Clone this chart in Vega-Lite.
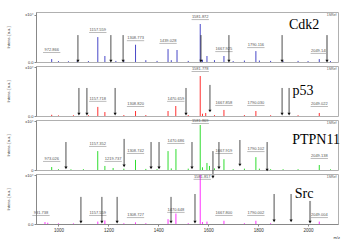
{
"$schema": "https://vega.github.io/schema/vega-lite/v6.json",
"padding": {"left": 6, "top": 11, "right": 5, "bottom": 2},
"background": "white",
"bounds": "flush",
"config": {
  "font": "Liberation Sans",
  "view": {"stroke": "#b0b0b0", "strokeWidth": 1},
  "concat": {"spacing": 4},
  "axis": {"labelFontSize": 4, "titleFontSize": 4, "titleFontWeight": "normal", "tickSize": 2, "labelPadding": 1, "titlePadding": 14, "domainColor": "#888", "tickColor": "#888", "labelColor": "#333", "titleColor": "#333", "grid": false}
},
"datasets": {
  "peaks": [
    {"p":"Cdk2","mz":972.9,"i":0.16},{"p":"Cdk2","mz":1000,"i":0.05},{"p":"Cdk2","mz":1040,"i":0.04},{"p":"Cdk2","mz":1075,"i":0.06},{"p":"Cdk2","mz":1120,"i":0.05},{"p":"Cdk2","mz":1157.6,"i":1.37},{"p":"Cdk2","mz":1186,"i":0.33},{"p":"Cdk2","mz":1230,"i":0.06},{"p":"Cdk2","mz":1262,"i":0.08},{"p":"Cdk2","mz":1308.8,"i":0.95},{"p":"Cdk2","mz":1350,"i":0.1},{"p":"Cdk2","mz":1395,"i":0.06},{"p":"Cdk2","mz":1439,"i":0.71},{"p":"Cdk2","mz":1452,"i":0.1},{"p":"Cdk2","mz":1475,"i":0.66},{"p":"Cdk2","mz":1520,"i":0.06},{"p":"Cdk2","mz":1568,"i":2.09},{"p":"Cdk2","mz":1577,"i":0.12},{"p":"Cdk2","mz":1595,"i":0.33},{"p":"Cdk2","mz":1625,"i":0.1},{"p":"Cdk2","mz":1663,"i":0.33},{"p":"Cdk2","mz":1700,"i":0.05},{"p":"Cdk2","mz":1745,"i":0.08},{"p":"Cdk2","mz":1791,"i":0.6},{"p":"Cdk2","mz":1805,"i":0.08},{"p":"Cdk2","mz":1850,"i":0.06},{"p":"Cdk2","mz":1900,"i":0.05},{"p":"Cdk2","mz":1960,"i":0.06},{"p":"Cdk2","mz":2000,"i":0.05},{"p":"Cdk2","mz":2045,"i":0.16},{"p":"Cdk2","mz":2090,"i":0.05},
    {"p":"p53","mz":972.9,"i":0.08},{"p":"p53","mz":1000,"i":0.04},{"p":"p53","mz":1060,"i":0.05},{"p":"p53","mz":1120,"i":0.05},{"p":"p53","mz":1157.6,"i":0.6},{"p":"p53","mz":1186,"i":0.26},{"p":"p53","mz":1262,"i":0.06},{"p":"p53","mz":1308.8,"i":0.33},{"p":"p53","mz":1350,"i":0.06},{"p":"p53","mz":1439,"i":0.33},{"p":"p53","mz":1470,"i":0.66},{"p":"p53","mz":1520,"i":0.06},{"p":"p53","mz":1568,"i":2.64},{"p":"p53","mz":1577,"i":0.15},{"p":"p53","mz":1590,"i":0.2},{"p":"p53","mz":1625,"i":0.06},{"p":"p53","mz":1663,"i":0.4},{"p":"p53","mz":1745,"i":0.06},{"p":"p53","mz":1791,"i":0.33},{"p":"p53","mz":1850,"i":0.05},{"p":"p53","mz":1960,"i":0.05},{"p":"p53","mz":2045,"i":0.2},
    {"p":"PTPN11","mz":972.9,"i":0.22},{"p":"PTPN11","mz":1000,"i":0.06},{"p":"PTPN11","mz":1050,"i":0.05},{"p":"PTPN11","mz":1100,"i":0.06},{"p":"PTPN11","mz":1157.4,"i":1.4},{"p":"PTPN11","mz":1186,"i":0.3},{"p":"PTPN11","mz":1219,"i":0.15},{"p":"PTPN11","mz":1262,"i":0.1},{"p":"PTPN11","mz":1308.7,"i":0.75},{"p":"PTPN11","mz":1350,"i":0.08},{"p":"PTPN11","mz":1395,"i":0.06},{"p":"PTPN11","mz":1439,"i":1.4},{"p":"PTPN11","mz":1452,"i":0.12},{"p":"PTPN11","mz":1470.7,"i":1.55},{"p":"PTPN11","mz":1520,"i":0.1},{"p":"PTPN11","mz":1568,"i":3.33},{"p":"PTPN11","mz":1577,"i":0.2},{"p":"PTPN11","mz":1595,"i":0.52},{"p":"PTPN11","mz":1605,"i":0.3},{"p":"PTPN11","mz":1625,"i":0.12},{"p":"PTPN11","mz":1663,"i":0.8},{"p":"PTPN11","mz":1700,"i":0.06},{"p":"PTPN11","mz":1745,"i":0.1},{"p":"PTPN11","mz":1791,"i":0.95},{"p":"PTPN11","mz":1805,"i":0.1},{"p":"PTPN11","mz":1850,"i":0.06},{"p":"PTPN11","mz":1900,"i":0.06},{"p":"PTPN11","mz":1960,"i":0.06},{"p":"PTPN11","mz":2045,"i":0.37},{"p":"PTPN11","mz":2090,"i":0.05},
    {"p":"Src","mz":946,"i":0.12},{"p":"Src","mz":957,"i":0.08},{"p":"Src","mz":1000,"i":0.04},{"p":"Src","mz":1060,"i":0.04},{"p":"Src","mz":1157.6,"i":0.15},{"p":"Src","mz":1186,"i":0.22},{"p":"Src","mz":1262,"i":0.05},{"p":"Src","mz":1308.7,"i":0.1},{"p":"Src","mz":1350,"i":0.05},{"p":"Src","mz":1439,"i":0.3},{"p":"Src","mz":1470.6,"i":0.65},{"p":"Src","mz":1520,"i":0.05},{"p":"Src","mz":1568,"i":3.05},{"p":"Src","mz":1577,"i":0.12},{"p":"Src","mz":1595,"i":0.15},{"p":"Src","mz":1663,"i":0.2},{"p":"Src","mz":1745,"i":0.05},{"p":"Src","mz":1791,"i":0.2},{"p":"Src","mz":1850,"i":0.05},{"p":"Src","mz":2045,"i":0.15}
  ],
  "labels": [
    {"p":"Cdk2","mz":972.9,"v":0.55,"t":"972.866"},{"p":"Cdk2","mz":1157.6,"v":1.65,"t":"1157.559"},{"p":"Cdk2","mz":1308.8,"v":1.2,"t":"1308.773"},{"p":"Cdk2","mz":1439,"v":1.05,"t":"1439.028"},{"p":"Cdk2","mz":1568,"v":2.36,"t":"1581.872"},{"p":"Cdk2","mz":1663,"v":0.6,"t":"1667.925"},{"p":"Cdk2","mz":1791,"v":0.82,"t":"1790.116"},{"p":"Cdk2","mz":2045,"v":0.5,"t":"2049.148"},
    {"p":"p53","mz":1157.6,"v":1.0,"t":"1157.718"},{"p":"p53","mz":1308.8,"v":0.66,"t":"1308.820"},{"p":"p53","mz":1470,"v":1.0,"t":"1470.659"},{"p":"p53","mz":1568,"v":2.97,"t":"1581.778"},{"p":"p53","mz":1663,"v":0.73,"t":"1667.858"},{"p":"p53","mz":1791,"v":0.73,"t":"1790.030"},{"p":"p53","mz":2045,"v":0.66,"t":"2049.022"},
    {"p":"PTPN11","mz":972.9,"v":0.67,"t":"973.026"},{"p":"PTPN11","mz":1157.4,"v":1.78,"t":"1157.352"},{"p":"PTPN11","mz":1219,"v":0.67,"t":"1219.737"},{"p":"PTPN11","mz":1308.7,"v":1.26,"t":"1308.742"},{"p":"PTPN11","mz":1470.7,"v":2.0,"t":"1470.686"},{"p":"PTPN11","mz":1568,"v":3.48,"t":"1581.869"},{"p":"PTPN11","mz":1663,"v":1.26,"t":"1667.919"},{"p":"PTPN11","mz":1791,"v":1.4,"t":"1790.102"},{"p":"PTPN11","mz":2045,"v":0.89,"t":"2049.138"},
    {"p":"Src","mz":930,"v":0.56,"t":"931.738"},{"p":"Src","mz":1157.6,"v":0.56,"t":"1157.559"},{"p":"Src","mz":1308.7,"v":0.43,"t":"1308.727"},{"p":"Src","mz":1470.6,"v":0.75,"t":"1470.648"},{"p":"Src","mz":1576,"v":2.8,"t":"1581.817"},{"p":"Src","mz":1663,"v":0.56,"t":"1667.800"},{"p":"Src","mz":1791,"v":0.56,"t":"1790.002"},{"p":"Src","mz":2045,"v":0.43,"t":"2049.004"}
  ],
  "arrows": [
    {"p":"Cdk2","mz":1078,"top":1.48,"bot":0.05,"g":false},{"p":"Cdk2","mz":1210,"top":1.48,"bot":0.05,"g":false},{"p":"Cdk2","mz":1259,"top":1.48,"bot":0.05,"g":false},{"p":"Cdk2","mz":1571,"top":1.48,"bot":0.05,"g":false},{"p":"Cdk2","mz":1683,"top":1.48,"bot":0.05,"g":false},{"p":"Cdk2","mz":1896,"top":1.48,"bot":0.05,"g":false},{"p":"Cdk2","mz":2076,"top":1.48,"bot":0.05,"g":true},
    {"p":"p53","mz":1082,"top":1.85,"bot":0.13,"g":false},{"p":"p53","mz":1114,"top":1.85,"bot":0.13,"g":false},{"p":"p53","mz":1227,"top":1.85,"bot":0.13,"g":false},{"p":"p53","mz":1511,"top":1.85,"bot":0.13,"g":false},{"p":"p53","mz":1607,"top":2.05,"bot":0.33,"g":false},{"p":"p53","mz":1896,"top":1.85,"bot":0.13,"g":false},{"p":"p53","mz":1924,"top":1.85,"bot":0.13,"g":false},
    {"p":"PTPN11","mz":1030,"top":2.07,"bot":0.15,"g":false},{"p":"PTPN11","mz":1263,"top":2.3,"bot":0.3,"g":false},{"p":"PTPN11","mz":1371,"top":2.07,"bot":0.15,"g":false},{"p":"PTPN11","mz":1403,"top":2.07,"bot":0.15,"g":false},{"p":"PTPN11","mz":1535,"top":2.07,"bot":0.15,"g":false},{"p":"PTPN11","mz":1619,"top":1.4,"bot":-0.52,"g":false},{"p":"PTPN11","mz":1643,"top":2.07,"bot":0.15,"g":false},{"p":"PTPN11","mz":1727,"top":2.22,"bot":0.37,"g":false},{"p":"PTPN11","mz":1836,"top":2.07,"bot":0.0,"g":false},
    {"p":"Src","mz":1090,"top":1.68,"bot":0.12,"g":false},{"p":"Src","mz":1174,"top":1.68,"bot":0.12,"g":false},{"p":"Src","mz":1235,"top":1.68,"bot":0.12,"g":false},{"p":"Src","mz":1451,"top":1.68,"bot":0.12,"g":false},{"p":"Src","mz":1547,"top":1.86,"bot":0.12,"g":false},{"p":"Src","mz":1864,"top":1.86,"bot":0.19,"g":false},{"p":"Src","mz":1932,"top":1.86,"bot":0.19,"g":false},{"p":"Src","mz":2008,"top":1.43,"bot":0.12,"g":true}
  ],
  "names": [
    {"p":"Cdk2","mz":1984,"v":2.03,"t":"Cdk2"},{"p":"p53","mz":1980,"v":1.65,"t":"p53"},{"p":"PTPN11","mz":2032,"v":2.22,"t":"PTPN11"},{"p":"Src","mz":1984,"v":1.86,"t":"Src"}
  ],
  "ids": [
    {"p":"Cdk2","mz":2114,"v":2.6,"t":"1SRef"},{"p":"p53","mz":2114,"v":3.12,"t":"1SRef"},{"p":"PTPN11","mz":2114,"v":3.5,"t":"1SRef"},{"p":"Src","mz":2114,"v":2.93,"t":"1SRef"}
  ]
},
"vconcat": [
  {"width": 302, "height": 50, "layer": [
    {"mark": {"type": "rule", "color": "#6060d0", "strokeWidth": 1}, "encoding": {"y": {"datum": 0, "type": "quantitative", "title": "Intens. [a.u.]", "scale": {"domain": [0, 2.75]}, "axis": {"values": [0, 0.5, 1, 1.5, 2, 2.6], "labelExpr": "datum.value > 2.5 ? 'x10⁴' : format(datum.value, '.1f')"}}}},
    {"data": {"name": "peaks"}, "transform": [{"filter": "datum.p == 'Cdk2'"}], "mark": {"type": "rule", "color": "#4848c8", "strokeWidth": 1}, "encoding": {"x": {"field": "mz", "type": "quantitative", "scale": {"domain": [910, 2120]}, "axis": null}, "y": {"field": "i", "type": "quantitative", "title": "Intens. [a.u.]", "scale": {"domain": [0, 2.75]}}, "y2": {"datum": 0}}},
    {"data": {"name": "labels"}, "transform": [{"filter": "datum.p == 'Cdk2'"}], "mark": {"type": "text", "fontSize": 4, "color": "#555", "baseline": "bottom"}, "encoding": {"x": {"field": "mz", "type": "quantitative", "scale": {"domain": [910, 2120]}, "axis": null}, "y": {"field": "v", "type": "quantitative", "title": "Intens. [a.u.]", "scale": {"domain": [0, 2.75]}}, "text": {"field": "t"}}},
    {"data": {"name": "labels"}, "transform": [{"filter": "datum.p == 'Cdk2'"}], "mark": {"type": "point", "shape": "M-1,0H1", "size": 300, "stroke": "#777", "strokeWidth": 0.5, "opacity": 1, "yOffset": 0.5}, "encoding": {"x": {"field": "mz", "type": "quantitative", "scale": {"domain": [910, 2120]}, "axis": null}, "y": {"field": "v", "type": "quantitative", "title": "Intens. [a.u.]", "scale": {"domain": [0, 2.75]}}}},
    {"data": {"name": "arrows"}, "transform": [{"filter": "datum.p == 'Cdk2'"}], "mark": {"type": "rule"}, "encoding": {"x": {"field": "mz", "type": "quantitative", "scale": {"domain": [910, 2120]}, "axis": null}, "y": {"field": "top", "type": "quantitative", "title": "Intens. [a.u.]", "scale": {"domain": [0, 2.75]}}, "y2": {"field": "bot"}, "color": {"condition": {"test": "datum.g", "value": "#a0a0a0"}, "value": "#222"}, "strokeWidth": {"condition": {"test": "datum.g", "value": 2}, "value": 0.8}}},
    {"data": {"name": "arrows"}, "transform": [{"filter": "datum.p == 'Cdk2'"}], "mark": {"type": "point", "shape": "triangle-down", "size": 10, "filled": true, "opacity": 1, "color": "#111"}, "encoding": {"x": {"field": "mz", "type": "quantitative", "scale": {"domain": [910, 2120]}, "axis": null}, "y": {"field": "bot", "type": "quantitative", "title": "Intens. [a.u.]", "scale": {"domain": [0, 2.75]}}}},
    {"data": {"name": "names"}, "transform": [{"filter": "datum.p == 'Cdk2'"}], "mark": {"type": "text", "font": "Liberation Serif", "fontSize": 14, "color": "#000"}, "encoding": {"x": {"field": "mz", "type": "quantitative", "scale": {"domain": [910, 2120]}, "axis": null}, "y": {"field": "v", "type": "quantitative", "title": "Intens. [a.u.]", "scale": {"domain": [0, 2.75]}}, "text": {"field": "t"}}},
    {"data": {"name": "ids"}, "transform": [{"filter": "datum.p == 'Cdk2'"}], "mark": {"type": "text", "fontSize": 3.5, "color": "#555", "align": "right"}, "encoding": {"x": {"field": "mz", "type": "quantitative", "scale": {"domain": [910, 2120]}, "axis": null}, "y": {"field": "v", "type": "quantitative", "title": "Intens. [a.u.]", "scale": {"domain": [0, 2.75]}}, "text": {"field": "t"}}}
  ]},
  {"width": 302, "height": 50, "layer": [
    {"mark": {"type": "rule", "color": "#ff5050", "strokeWidth": 1}, "encoding": {"y": {"datum": 0, "type": "quantitative", "title": "Intens. [a.u.]", "scale": {"domain": [0, 3.3]}, "axis": {"values": [0, 0.5, 1, 1.5, 2, 2.5, 3, 3.22], "labelExpr": "datum.value > 3.1 ? 'x10⁴' : format(datum.value, '.1f')"}}}},
    {"data": {"name": "peaks"}, "transform": [{"filter": "datum.p == 'p53'"}], "mark": {"type": "rule", "color": "#ff3030", "strokeWidth": 1}, "encoding": {"x": {"field": "mz", "type": "quantitative", "scale": {"domain": [910, 2120]}, "axis": null}, "y": {"field": "i", "type": "quantitative", "title": "Intens. [a.u.]", "scale": {"domain": [0, 3.3]}}, "y2": {"datum": 0}}},
    {"data": {"name": "labels"}, "transform": [{"filter": "datum.p == 'p53'"}], "mark": {"type": "text", "fontSize": 4, "color": "#555", "baseline": "bottom"}, "encoding": {"x": {"field": "mz", "type": "quantitative", "scale": {"domain": [910, 2120]}, "axis": null}, "y": {"field": "v", "type": "quantitative", "title": "Intens. [a.u.]", "scale": {"domain": [0, 3.3]}}, "text": {"field": "t"}}},
    {"data": {"name": "labels"}, "transform": [{"filter": "datum.p == 'p53'"}], "mark": {"type": "point", "shape": "M-1,0H1", "size": 300, "stroke": "#777", "strokeWidth": 0.5, "opacity": 1, "yOffset": 0.5}, "encoding": {"x": {"field": "mz", "type": "quantitative", "scale": {"domain": [910, 2120]}, "axis": null}, "y": {"field": "v", "type": "quantitative", "title": "Intens. [a.u.]", "scale": {"domain": [0, 3.3]}}}},
    {"data": {"name": "arrows"}, "transform": [{"filter": "datum.p == 'p53'"}], "mark": {"type": "rule"}, "encoding": {"x": {"field": "mz", "type": "quantitative", "scale": {"domain": [910, 2120]}, "axis": null}, "y": {"field": "top", "type": "quantitative", "title": "Intens. [a.u.]", "scale": {"domain": [0, 3.3]}}, "y2": {"field": "bot"}, "color": {"condition": {"test": "datum.g", "value": "#a0a0a0"}, "value": "#222"}, "strokeWidth": {"condition": {"test": "datum.g", "value": 2}, "value": 0.8}}},
    {"data": {"name": "arrows"}, "transform": [{"filter": "datum.p == 'p53'"}], "mark": {"type": "point", "shape": "triangle-down", "size": 10, "filled": true, "opacity": 1, "color": "#111"}, "encoding": {"x": {"field": "mz", "type": "quantitative", "scale": {"domain": [910, 2120]}, "axis": null}, "y": {"field": "bot", "type": "quantitative", "title": "Intens. [a.u.]", "scale": {"domain": [0, 3.3]}}}},
    {"data": {"name": "names"}, "transform": [{"filter": "datum.p == 'p53'"}], "mark": {"type": "text", "font": "Liberation Serif", "fontSize": 14, "color": "#000"}, "encoding": {"x": {"field": "mz", "type": "quantitative", "scale": {"domain": [910, 2120]}, "axis": null}, "y": {"field": "v", "type": "quantitative", "title": "Intens. [a.u.]", "scale": {"domain": [0, 3.3]}}, "text": {"field": "t"}}},
    {"data": {"name": "ids"}, "transform": [{"filter": "datum.p == 'p53'"}], "mark": {"type": "text", "fontSize": 3.5, "color": "#555", "align": "right"}, "encoding": {"x": {"field": "mz", "type": "quantitative", "scale": {"domain": [910, 2120]}, "axis": null}, "y": {"field": "v", "type": "quantitative", "title": "Intens. [a.u.]", "scale": {"domain": [0, 3.3]}}, "text": {"field": "t"}}}
  ]},
  {"width": 302, "height": 50, "layer": [
    {"mark": {"type": "rule", "color": "#40e040", "strokeWidth": 1}, "encoding": {"y": {"datum": 0, "type": "quantitative", "title": "Intens. [a.u.]", "scale": {"domain": [0, 3.7]}, "axis": {"values": [0, 1, 2, 3, 3.6], "labelExpr": "datum.value > 3.5 ? 'x10⁴' : format(datum.value, 'd')"}}}},
    {"data": {"name": "peaks"}, "transform": [{"filter": "datum.p == 'PTPN11'"}], "mark": {"type": "rule", "color": "#30dd30", "strokeWidth": 1}, "encoding": {"x": {"field": "mz", "type": "quantitative", "scale": {"domain": [910, 2120]}, "axis": null}, "y": {"field": "i", "type": "quantitative", "title": "Intens. [a.u.]", "scale": {"domain": [0, 3.7]}}, "y2": {"datum": 0}}},
    {"data": {"name": "labels"}, "transform": [{"filter": "datum.p == 'PTPN11'"}], "mark": {"type": "text", "fontSize": 4, "color": "#555", "baseline": "bottom"}, "encoding": {"x": {"field": "mz", "type": "quantitative", "scale": {"domain": [910, 2120]}, "axis": null}, "y": {"field": "v", "type": "quantitative", "title": "Intens. [a.u.]", "scale": {"domain": [0, 3.7]}}, "text": {"field": "t"}}},
    {"data": {"name": "labels"}, "transform": [{"filter": "datum.p == 'PTPN11'"}], "mark": {"type": "point", "shape": "M-1,0H1", "size": 300, "stroke": "#777", "strokeWidth": 0.5, "opacity": 1, "yOffset": 0.5}, "encoding": {"x": {"field": "mz", "type": "quantitative", "scale": {"domain": [910, 2120]}, "axis": null}, "y": {"field": "v", "type": "quantitative", "title": "Intens. [a.u.]", "scale": {"domain": [0, 3.7]}}}},
    {"data": {"name": "arrows"}, "transform": [{"filter": "datum.p == 'PTPN11'"}], "mark": {"type": "rule"}, "encoding": {"x": {"field": "mz", "type": "quantitative", "scale": {"domain": [910, 2120]}, "axis": null}, "y": {"field": "top", "type": "quantitative", "title": "Intens. [a.u.]", "scale": {"domain": [0, 3.7]}}, "y2": {"field": "bot"}, "color": {"condition": {"test": "datum.g", "value": "#a0a0a0"}, "value": "#222"}, "strokeWidth": {"condition": {"test": "datum.g", "value": 2}, "value": 0.8}}},
    {"data": {"name": "arrows"}, "transform": [{"filter": "datum.p == 'PTPN11'"}], "mark": {"type": "point", "shape": "triangle-down", "size": 10, "filled": true, "opacity": 1, "color": "#111"}, "encoding": {"x": {"field": "mz", "type": "quantitative", "scale": {"domain": [910, 2120]}, "axis": null}, "y": {"field": "bot", "type": "quantitative", "title": "Intens. [a.u.]", "scale": {"domain": [0, 3.7]}}}},
    {"data": {"name": "names"}, "transform": [{"filter": "datum.p == 'PTPN11'"}], "mark": {"type": "text", "font": "Liberation Serif", "fontSize": 14, "color": "#000"}, "encoding": {"x": {"field": "mz", "type": "quantitative", "scale": {"domain": [910, 2120]}, "axis": null}, "y": {"field": "v", "type": "quantitative", "title": "Intens. [a.u.]", "scale": {"domain": [0, 3.7]}}, "text": {"field": "t"}}},
    {"data": {"name": "ids"}, "transform": [{"filter": "datum.p == 'PTPN11'"}], "mark": {"type": "text", "fontSize": 3.5, "color": "#555", "align": "right"}, "encoding": {"x": {"field": "mz", "type": "quantitative", "scale": {"domain": [910, 2120]}, "axis": null}, "y": {"field": "v", "type": "quantitative", "title": "Intens. [a.u.]", "scale": {"domain": [0, 3.7]}}, "text": {"field": "t"}}}
  ]},
  {"width": 302, "height": 50, "layer": [
    {"mark": {"type": "rule", "color": "#ff60ff", "strokeWidth": 1}, "encoding": {"y": {"datum": 0, "type": "quantitative", "title": "Intens. [a.u.]", "scale": {"domain": [0, 3.1]}, "axis": {"values": [0, 0.5, 1, 1.5, 2, 2.5, 3.02], "labelExpr": "datum.value > 2.9 ? 'x10⁴' : format(datum.value, '.1f')"}}}},
    {"data": {"name": "peaks"}, "transform": [{"filter": "datum.p == 'Src'"}], "mark": {"type": "rule", "color": "#ff30ff", "strokeWidth": 1}, "encoding": {"x": {"field": "mz", "type": "quantitative", "title": "m/z", "scale": {"domain": [910, 2120]}, "axis": {"values": [1000, 1200, 1400, 1600, 1800, 2000], "format": "d", "labelFontSize": 4.5, "titleAnchor": "end", "titleAlign": "left", "titleX": 297, "titleY": 11, "titlePadding": 2}}, "y": {"field": "i", "type": "quantitative", "title": "Intens. [a.u.]", "scale": {"domain": [0, 3.1]}}, "y2": {"datum": 0}}},
    {"data": {"name": "labels"}, "transform": [{"filter": "datum.p == 'Src'"}], "mark": {"type": "text", "fontSize": 4, "color": "#555", "baseline": "bottom"}, "encoding": {"x": {"field": "mz", "type": "quantitative", "title": "m/z", "scale": {"domain": [910, 2120]}}, "y": {"field": "v", "type": "quantitative", "title": "Intens. [a.u.]", "scale": {"domain": [0, 3.1]}}, "text": {"field": "t"}}},
    {"data": {"name": "labels"}, "transform": [{"filter": "datum.p == 'Src'"}], "mark": {"type": "point", "shape": "M-1,0H1", "size": 300, "stroke": "#777", "strokeWidth": 0.5, "opacity": 1, "yOffset": 0.5}, "encoding": {"x": {"field": "mz", "type": "quantitative", "title": "m/z", "scale": {"domain": [910, 2120]}}, "y": {"field": "v", "type": "quantitative", "title": "Intens. [a.u.]", "scale": {"domain": [0, 3.1]}}}},
    {"data": {"name": "arrows"}, "transform": [{"filter": "datum.p == 'Src'"}], "mark": {"type": "rule"}, "encoding": {"x": {"field": "mz", "type": "quantitative", "title": "m/z", "scale": {"domain": [910, 2120]}}, "y": {"field": "top", "type": "quantitative", "title": "Intens. [a.u.]", "scale": {"domain": [0, 3.1]}}, "y2": {"field": "bot"}, "color": {"condition": {"test": "datum.g", "value": "#a0a0a0"}, "value": "#222"}, "strokeWidth": {"condition": {"test": "datum.g", "value": 2}, "value": 0.8}}},
    {"data": {"name": "arrows"}, "transform": [{"filter": "datum.p == 'Src'"}], "mark": {"type": "point", "shape": "triangle-down", "size": 10, "filled": true, "opacity": 1, "color": "#111"}, "encoding": {"x": {"field": "mz", "type": "quantitative", "title": "m/z", "scale": {"domain": [910, 2120]}}, "y": {"field": "bot", "type": "quantitative", "title": "Intens. [a.u.]", "scale": {"domain": [0, 3.1]}}}},
    {"data": {"name": "names"}, "transform": [{"filter": "datum.p == 'Src'"}], "mark": {"type": "text", "font": "Liberation Serif", "fontSize": 14, "color": "#000"}, "encoding": {"x": {"field": "mz", "type": "quantitative", "title": "m/z", "scale": {"domain": [910, 2120]}}, "y": {"field": "v", "type": "quantitative", "title": "Intens. [a.u.]", "scale": {"domain": [0, 3.1]}}, "text": {"field": "t"}}},
    {"data": {"name": "ids"}, "transform": [{"filter": "datum.p == 'Src'"}], "mark": {"type": "text", "fontSize": 3.5, "color": "#555", "align": "right"}, "encoding": {"x": {"field": "mz", "type": "quantitative", "title": "m/z", "scale": {"domain": [910, 2120]}}, "y": {"field": "v", "type": "quantitative", "title": "Intens. [a.u.]", "scale": {"domain": [0, 3.1]}}, "text": {"field": "t"}}}
  ]}
]
}
